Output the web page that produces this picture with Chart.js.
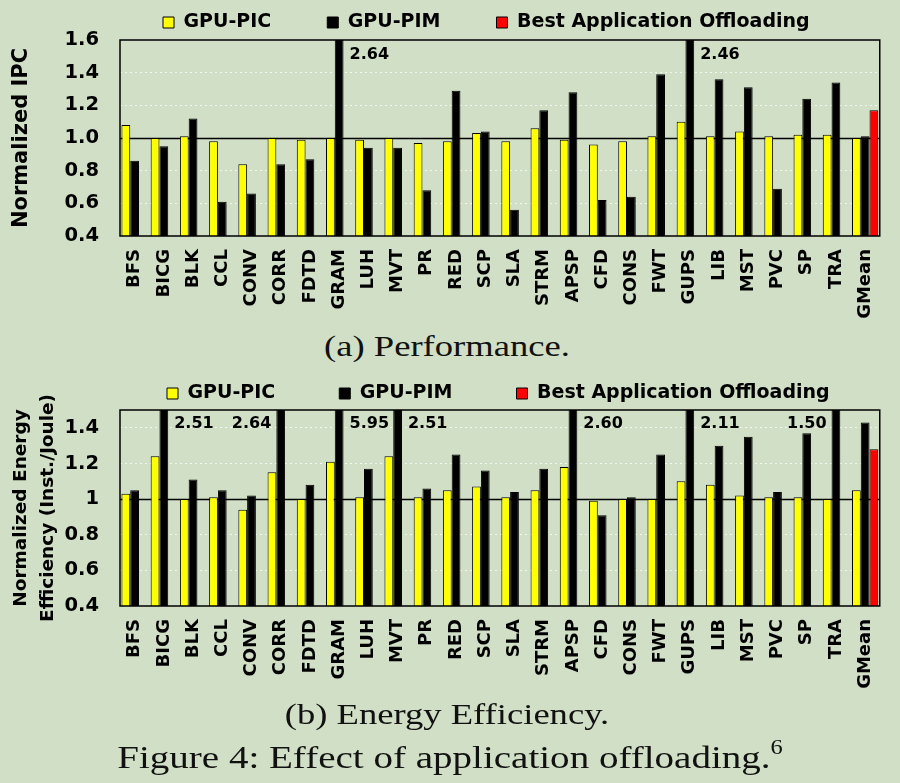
<!DOCTYPE html>
<html><head><meta charset="utf-8">
<script src="https://cdn.jsdelivr.net/npm/chart.js@4.4.1/dist/chart.umd.min.js"></script>
<style>
html,body{margin:0;padding:0;background:#d0dfc5;width:900px;height:783px;overflow:hidden;}
.box{position:absolute;left:0;width:900px;height:328px;}
.cap{position:absolute;width:900px;text-align:center;font-family:"Liberation Serif","Times New Roman",serif;color:#111;white-space:nowrap;transform:scaleX(1.22);transform-origin:center;}
.cap sup{font-size:20px;line-height:0;vertical-align:14px;}
</style></head><body>
<div class="box" style="top:0px"><canvas id="c1"></canvas></div>
<div class="cap" style="top:328px;left:-3px;font-size:30px;line-height:36px;">(a) Performance.</div>
<div class="box" style="top:370px"><canvas id="c2"></canvas></div>
<div class="cap" style="top:696px;left:-3px;font-size:30px;line-height:36px;">(b) Energy Efficiency.</div>
<div class="cap" style="top:738px;left:0px;font-size:32px;line-height:38px;">Figure 4: Effect of application offloading.<sup>6</sup></div>
<script>
// ---------------- data ----------------
const categories = ['BFS','BICG','BLK','CCL','CONV','CORR','FDTD','GRAM','LUH','MVT','PR','RED','SCP','SLA','STRM','APSP','CFD','CONS','FWT','GUPS','LIB','MST','PVC','SP','TRA','GMean'];
const seriesNames = ['GPU-PIC','GPU-PIM','Best Application Offloading'];

const perfPIC  = [1.08,1.00,1.01,0.98,0.84,1.00,0.99,1.00,0.99,1.00,0.97,0.98,1.03,0.98,1.06,0.99,0.96,0.98,1.01,1.10,1.01,1.04,1.01,1.02,1.02,1.00];
const perfPIM  = [0.86,0.95,1.12,0.61,0.66,0.84,0.87,2.64,0.94,0.94,0.68,1.29,1.04,0.56,1.17,1.28,0.62,0.64,1.39,2.46,1.36,1.31,0.69,1.24,1.34,1.01];
const perfBest = [null,null,null,null,null,null,null,null,null,null,null,null,null,null,null,null,null,null,null,null,null,null,null,null,null,1.17];

const energyPIC  = [1.03,1.24,1.00,1.01,0.94,1.15,1.00,1.21,1.01,1.24,1.01,1.05,1.07,1.01,1.05,1.18,0.99,1.00,1.00,1.10,1.08,1.02,1.01,1.01,1.00,1.05];
const energyPIM  = [1.05,2.51,1.11,1.05,1.02,2.64,1.08,5.95,1.17,2.51,1.06,1.25,1.16,1.04,1.17,2.60,0.91,1.01,1.25,2.11,1.30,1.35,1.04,1.37,1.50,1.43];
const energyBest = [null,null,null,null,null,null,null,null,null,null,null,null,null,null,null,null,null,null,null,null,null,null,null,null,null,1.28];

const perfTickValues = [0.4,0.6,0.8,1.0,1.2,1.4,1.6];
const perfTickLabels = ['0.4','0.6','0.8','1.0','1.2','1.4','1.6'];
const energyTickValues = [0.4,0.6,0.8,1.0,1.2,1.4];
const energyTickLabels = ['0.4','0.6','0.8','1','1.2','1.4'];

// ---------------- styling / helpers ----------------
const SANS = '"DejaVu Sans", "Liberation Sans", Arial, sans-serif';
const colors = ['#ffff00', '#000000', '#ff0000'];

const figPlugin = {
  id: 'fig',
  beforeInit(chart) {
    const leg = chart.legend;
    if (leg) {
      const f = leg.fit;
      leg.fit = function () { f.call(this); this.height = 40; };
    }
  },
  afterLayout(chart, args, o) {
    const leg = chart.legend;
    if (!leg || !leg.lineWidths) return;
    const pad = leg.options.labels.padding;
    const firstX = (leg.left + pad + leg.right - leg.lineWidths[0]) / 2;
    const dx = o.legendX - firstX;
    leg.left += dx; leg.right += dx;
    leg.top = o.legendY - pad - leg.options.labels.font.size / 2;
    leg.bottom = o.legendY + 30;
  },
  beforeDatasetsDraw(chart) {
    const {ctx, chartArea: a, scales: {y}} = chart;
    const py = Math.round(y.getPixelForValue(1)) + 0.5;
    ctx.save();
    ctx.strokeStyle = '#000'; ctx.lineWidth = 1.3;
    ctx.beginPath(); ctx.moveTo(a.left, py); ctx.lineTo(a.right, py); ctx.stroke();
    ctx.restore();
  },
  afterDatasetsDraw(chart, args, o) {
    const {ctx, chartArea: a, scales: {y}} = chart;
    ctx.save();
    ctx.strokeStyle = '#000'; ctx.lineWidth = 1.5;
    ctx.strokeRect(a.left, a.top, a.right - a.left, a.bottom - a.top);
    // value labels for bars reaching past the top of the axis
    const meta = chart.getDatasetMeta(1);
    const data = chart.data.datasets[1].data;
    ctx.font = 'bold 16px ' + SANS;
    ctx.fillStyle = '#000';
    ctx.textBaseline = 'middle';
    data.forEach((v, i) => {
      if (v == null || v < y.max - 1e-9) return;
      const bar = meta.data[i];
      const left = o.leftLabels.includes(chart.data.labels[i]);
      ctx.textAlign = left ? 'right' : 'left';
      const x = left ? bar.x - bar.width / 2 - 5 : bar.x + bar.width / 2 + 6;
      ctx.fillText(v.toFixed(2), x, a.top + o.labelDy);
    });
    ctx.restore();
  }
};

function makeChart(id, pic, pim, best, yMin, yMax, tickValues, tickLabels, yTitle, titleFont, legendX, legendY, legendPad, leftLabels, labelDy) {
  const series = [pic, pim, best];
  return new Chart(document.getElementById(id), {
    type: 'bar',
    data: {
      labels: categories,
      datasets: series.map((d, k) => ({
        label: seriesNames[k],
        data: d,
        backgroundColor: colors[k],
        borderColor: '#000',
        borderWidth: 1,
        borderSkipped: 'start',
        categoryPercentage: 0.9,
        barPercentage: 1.0,
        clip: 0
      }))
    },
    options: {
      responsive: true,
      maintainAspectRatio: false,
      animation: false,
      layout: {padding: {left: 0, right: 13, top: 0, bottom: 0}},
      plugins: {
        tooltip: {enabled: false},
        legend: {
          display: true,
          position: 'top',
          labels: {
            boxWidth: 11, boxHeight: 11, padding: legendPad,
            color: '#000',
            font: {family: SANS, size: 19, weight: 'bold'}
          }
        },
        fig: {legendX, legendY, leftLabels, labelDy}
      },
      scales: {
        x: {
          type: 'category',
          grid: {display: false, drawTicks: false},
          border: {display: false},
          afterFit: s => { s.height = 92; },
          ticks: {
            autoSkip: false, maxRotation: 90, minRotation: 90, padding: 13,
            color: '#000', font: {family: SANS, size: 18, weight: 'bold'}
          }
        },
        y: {
          type: 'linear',
          min: yMin, max: yMax,
          afterFit: s => { s.width = 120; },
          afterBuildTicks: s => { s.ticks = tickValues.map(v => ({value: v})); },
          grid: {
            drawTicks: false,
            lineWidth: 1,
            color: c => {
              const v = c.tick ? c.tick.value : null;
              if (v === null || Math.abs(v - 1) < 1e-6 || Math.abs(v - yMin) < 1e-6 || Math.abs(v - yMax) < 1e-6) return 'rgba(0,0,0,0)';
              return 'rgba(255,255,255,0.7)';
            }
          },
          border: {display: false, dash: [2, 3]},
          ticks: {
            padding: 21, color: '#000',
            font: {family: SANS, size: 19.5, weight: 'bold'},
            callback: (v, i) => tickLabels[i]
          },
          title: {
            display: true, text: yTitle, color: '#000',
            font: titleFont,
            padding: {top: titleFont.padTop, bottom: 0}
          }
        }
      }
    },
    plugins: [figPlugin]
  });
}

makeChart('c1', perfPIC, perfPIM, perfBest, 0.4, 1.6, perfTickValues, perfTickLabels,
  'Normalized IPC', {family: SANS, size: 21, weight: 'bold', lineHeight: 1.2, padTop: 9},
  163, 22.5, 56, [], 15);

makeChart('c2', energyPIC, energyPIM, energyBest, 0.4, 1.5, energyTickValues, energyTickLabels,
  ['Normalized Energy', 'Efficiency (Inst./Joule)'], {family: SANS, size: 18.5, weight: 'bold', lineHeight: 1.45, padTop: 8},
  167, 23.5, 64, ['CORR', 'TRA'], 14);
</script>
</body></html>
